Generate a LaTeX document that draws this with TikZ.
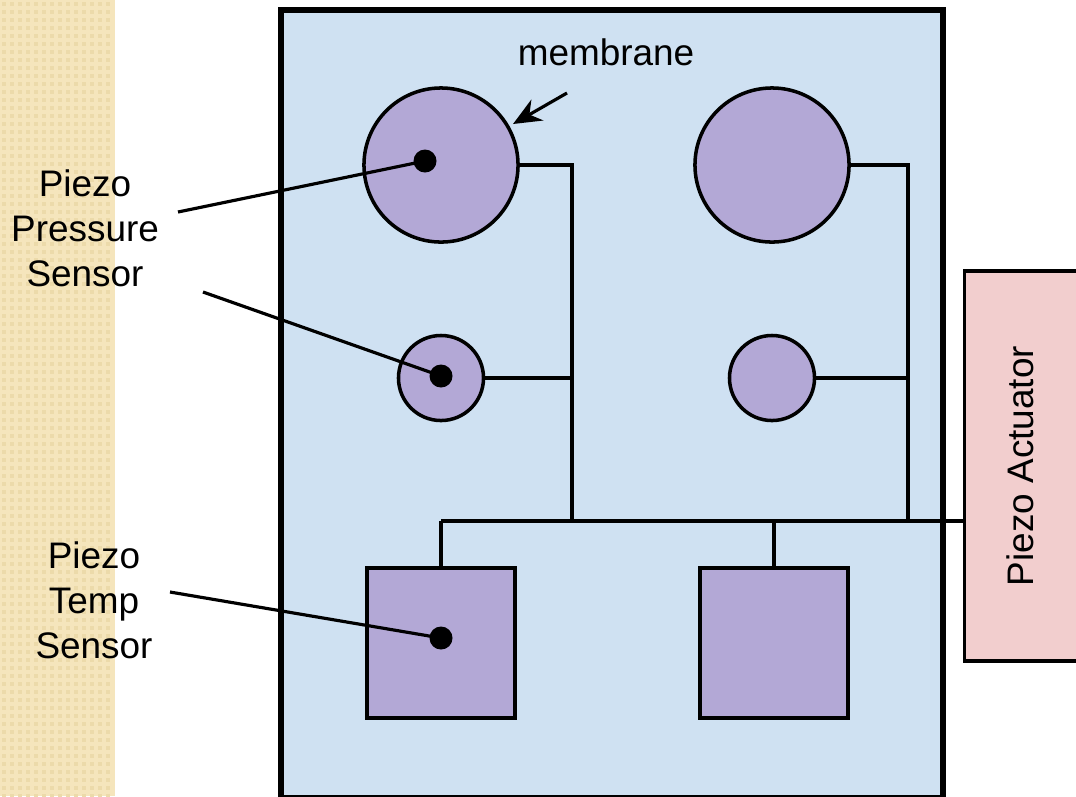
\documentclass[tikz,border=0pt]{standalone}
\usepackage{fontspec}
\setmainfont{Liberation Sans}
\usetikzlibrary{arrows.meta}
\definecolor{beige}{RGB}{245,229,188}
\definecolor{beigedk}{RGB}{236,218,170}
\definecolor{membfill}{RGB}{207,225,242}
\definecolor{purp}{RGB}{179,168,214}
\definecolor{pinkfill}{RGB}{242,206,206}
\tikzset{
  lbl/.style={font=\fontsize{10.5}{12.8}\selectfont, align=center, inner sep=0pt},
  bigc/.style={circle, draw, line width=1pt, fill=purp, minimum size=1.54cm, inner sep=0pt},
  smc/.style={circle, draw, line width=1pt, fill=purp, minimum size=0.85cm, inner sep=0pt},
  sqbox/.style={rectangle, draw, line width=1pt, fill=purp, minimum width=1.48cm, minimum height=1.50cm, inner sep=0pt},
  dot/.style={circle, fill=black, minimum size=0.23cm, inner sep=0pt},
  wire/.style={line width=0.9pt},
  actbox/.style={rectangle, draw, line width=1pt, fill=pinkfill, minimum width=1.15cm, minimum height=3.90cm, inner sep=0pt}
}
\begin{document}
\begin{tikzpicture}[x=0.01cm,y=-0.01cm]
\useasboundingbox (0,0) rectangle (1076,796);
\clip (0,0) rectangle (1076,796);
\fill[white] (0,0) rectangle (1076,796);
% beige strip
\fill[beige] (0,0) rectangle (115,796);
\foreach \i in {0,...,13} {\foreach \j in {0,...,99} {
  \fill[beigedk] (\i*8+2,\j*8+2) rectangle (\i*8+6,\j*8+6);
}}
% membrane board
\draw[line width=1.7pt, fill=membfill] (281,10) rectangle (943,798);
% components
\node[bigc] (big1) at (441,165) {};
\node[bigc] (big2) at (772,165) {};
\node[smc] (sm1) at (441,378) {};
\node[smc] (sm2) at (772,378) {};
\node[sqbox] (sq1) at (441,643) {};
\node[sqbox] (sq2) at (774,643) {};
\node[actbox] (act) at (1022,466) {};
\node[lbl, rotate=90] (acttxt) at (1020,466) {Piezo Actuator};
% junctions
\coordinate (j1) at (572,521);
\coordinate (j2) at (908,521);
\coordinate (b0) at (441,521);
\coordinate (b1) at (774,521);
% wires
\draw[wire] (big1.east) -| (j1);
\draw[wire] (sm1.east) -- (sm1.east -| j1);
\draw[wire] (big2.east) -| (j2);
\draw[wire] (sm2.east) -- (sm2.east -| j2);
\draw[wire] (b0) -- (act.west |- b0);
\draw[wire] (b0) -- (sq1.north);
\draw[wire] (b1) -- (sq2.north);
% dots
\node[dot] (d1) at (425,161) {};
\node[dot] (d2) at (441,376) {};
\node[dot] (d3) at (441,638) {};
% labels
\node[lbl] (pps) at (85,228) {Piezo\\Pressure\\Sensor};
\node[lbl] (pts) at (94,600) {Piezo\\Temp\\Sensor};
\node[lbl] (memb) at (606,52) {membrane};
\coordinate (l1) at (178,212);
\coordinate (l2) at (203,292);
\coordinate (l3) at (170,592);
\draw[wire] (l1) -- (d1.center);
\draw[wire] (l2) -- (d2.center);
\draw[wire] (l3) -- (d3.center);
\coordinate (ma) at (567,93);
\coordinate (mb) at (513,124);
\draw[wire, -{Stealth[length=0.28cm, width=0.24cm]}] (ma) -- (mb);
\end{tikzpicture}
\end{document}
